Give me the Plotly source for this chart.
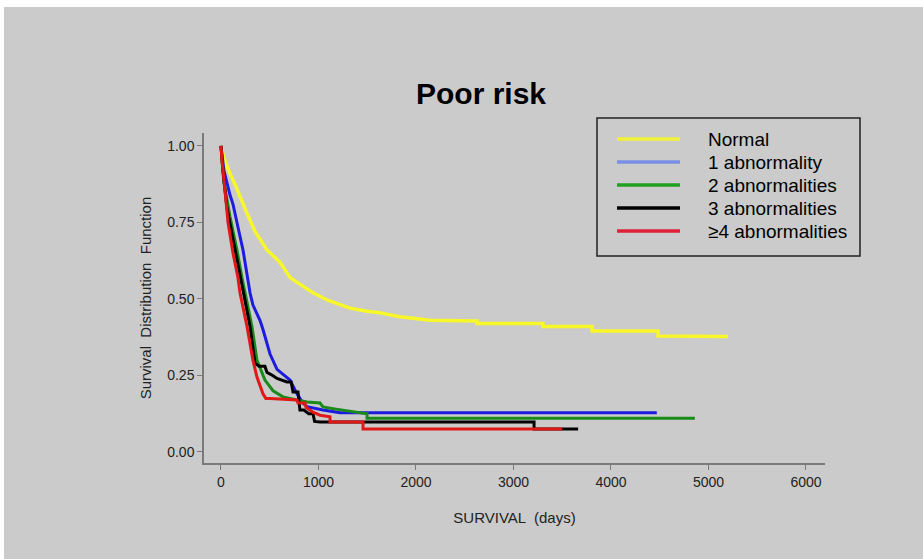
import plotly.graph_objects as go

# ---------------- data (vertices of each KM curve) ----------------
group_names = ["Normal", "1 abnormality", "2 abnormalities", "3 abnormalities", "\u22654 abnormalities"]

normal_t = [0, 30, 92, 150, 267, 350, 472, 605, 677, 708, 800, 944, 1100, 1323, 1500, 1631, 1733, 1836, 2144,
            2626, 2626, 3303, 3303, 3806, 3806, 4483, 4483, 5200]
normal_s = [1.0, 0.96, 0.91, 0.87, 0.78, 0.72, 0.66, 0.62, 0.585, 0.57, 0.55, 0.52, 0.495, 0.47, 0.46, 0.455, 0.448, 0.442, 0.430,
            0.428, 0.42, 0.42, 0.41, 0.41, 0.395, 0.395, 0.379, 0.377]

ab1_t = [0, 30, 92, 123, 174, 226, 298, 328, 400, 431, 503, 575, 650, 708, 780, 841, 882, 1046, 1221, 4470]
ab1_s = [1.0, 0.92, 0.84, 0.81, 0.735, 0.66, 0.52, 0.48, 0.43, 0.40, 0.32, 0.27, 0.25, 0.235, 0.19, 0.16, 0.148, 0.137, 0.128, 0.128]

ab2_t = [0, 30, 92, 164, 215, 246, 318, 369, 451, 534, 636, 780, 882, 1016, 1046, 1180, 1395, 1498, 1498, 4860]
ab2_s = [1.0, 0.88, 0.77, 0.66, 0.57, 0.52, 0.41, 0.30, 0.235, 0.20, 0.18, 0.17, 0.163, 0.16, 0.147, 0.14, 0.13, 0.125, 0.11, 0.11]

ab3_t = [0, 20, 60, 164, 226, 298, 349, 390, 451, 472, 530, 575, 677, 720, 739, 790, 810, 850, 900, 944, 960,
         1016, 3211, 3211, 3663]
ab3_s = [1.0, 0.92, 0.80, 0.63, 0.52, 0.41, 0.29, 0.28, 0.28, 0.26, 0.25, 0.24, 0.229, 0.229, 0.196, 0.196, 0.137, 0.137, 0.125, 0.125, 0.10,
         0.098, 0.098, 0.075, 0.075]

ab4_t = [0, 10, 41, 72, 123, 174, 195, 267, 328, 369, 431, 460, 503, 739, 780, 790, 862, 872, 944, 1016, 1118,
         1118, 1457, 1457, 3500]
ab4_s = [1.0, 0.954, 0.856, 0.75, 0.65, 0.57, 0.52, 0.41, 0.30, 0.245, 0.19, 0.175, 0.175, 0.17, 0.17, 0.16, 0.16, 0.146, 0.13, 0.12, 0.115,
         0.098, 0.098, 0.075, 0.075]

x_ticks = [0, 1000, 2000, 3000, 4000, 5000, 6000]
y_ticks = [0.0, 0.25, 0.5, 0.75, 1.0]

# ---------------- styles ----------------
curve_colors = ["#F7F72A", "#1C1CE0", "#1A8A1A", "#000000", "#E01818"]
legend_colors = ["#F2F23A", "#7A8FE6", "#22A022", "#000000", "#E0203A"]
curve_widths = [3.5, 3, 3, 3, 3]
BG = "#CBCBCB"
FONT = "Liberation Sans, Arial, sans-serif"

W, H = 923, 559
L, R, T, B = 204, 98, 133, 96
PW, PH = W - L - R, H - T - B

def px(xp):
    return (xp - L) / PW

def py(yp):
    return (H - B - yp) / PH

series = [(normal_t, normal_s), (ab1_t, ab1_s), (ab2_t, ab2_s), (ab3_t, ab3_s), (ab4_t, ab4_s)]

fig = go.Figure()
for (t, s), name, c, w in zip(series, group_names, curve_colors, curve_widths):
    fig.add_trace(go.Scatter(x=t, y=s, mode="lines", name=name, showlegend=False,
                             line=dict(color=c, width=w, shape="linear")))

shapes = []
annotations = []
# white strips at top/left edges of the picture
shapes.append(dict(type="rect", xref="paper", yref="paper", x0=px(0), x1=px(W), y0=py(7), y1=py(0),
                   fillcolor="white", line=dict(width=0), layer="above"))
shapes.append(dict(type="rect", xref="paper", yref="paper", x0=px(0), x1=px(4), y0=py(H), y1=py(0),
                   fillcolor="white", line=dict(width=0), layer="above"))

# manual legend
shapes.append(dict(type="rect", xref="paper", yref="paper", x0=px(597), x1=px(860), y0=py(256), y1=py(118),
                   line=dict(color="#222222", width=1.5), fillcolor=BG, layer="above"))
leg_y = [139, 162, 185, 208, 231]
for name, c, yy in zip(group_names, legend_colors, leg_y):
    shapes.append(dict(type="line", xref="paper", yref="paper", x0=px(617), x1=px(680), y0=py(yy), y1=py(yy),
                       line=dict(color=c, width=3.5), layer="above"))
    annotations.append(dict(xref="paper", yref="paper", x=px(706), y=py(yy), text=name, showarrow=False,
                            xanchor="left", yanchor="middle", font=dict(family=FONT, size=19, color="#000000")))

fig.update_layout(
    width=W, height=H,
    margin=dict(l=L, r=R, t=T, b=B),
    paper_bgcolor=BG, plot_bgcolor=BG,
    title=dict(text="<b>Poor risk</b>", x=481 / W, xanchor="center", y=1 - 93 / H, yanchor="middle",
               font=dict(family=FONT, size=30, color="#000000")),
    showlegend=False,
    shapes=shapes, annotations=annotations,
    xaxis=dict(range=[-174, 6195], tickvals=x_ticks, ticktext=[str(v) for v in x_ticks],
               showgrid=False, zeroline=False, showline=True, linecolor="#7A7A7A", linewidth=1.5,
               ticks="outside", ticklen=5, tickcolor="#7A7A7A",
               tickfont=dict(family=FONT, size=14, color="#222222"),
               title=dict(text="SURVIVAL  (days)", standoff=24, font=dict(family=FONT, size=15, color="#222222"))),
    yaxis=dict(range=[-0.036, 1.042], tickvals=y_ticks, ticktext=["%.2f" % v for v in y_ticks],
               showgrid=False, zeroline=False, showline=True, linecolor="#7A7A7A", linewidth=1.5,
               ticks="outside", ticklen=5, tickcolor="#7A7A7A",
               tickfont=dict(family=FONT, size=14, color="#222222"),
               title=dict(text="Survival  Distribution  Function", standoff=12,
                          font=dict(family=FONT, size=15, color="#222222"))),
)

fig.write_html("out.html")
